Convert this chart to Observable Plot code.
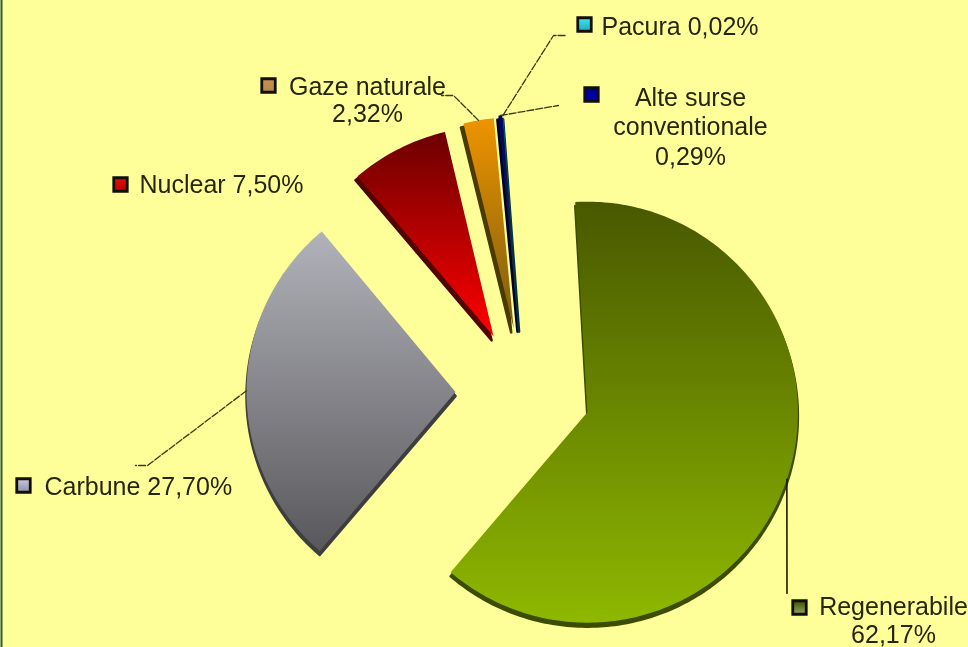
<!DOCTYPE html>
<html>
<head>
<meta charset="utf-8">
<script src="https://cdn.jsdelivr.net/npm/d3@7"></script>
<script src="https://cdn.jsdelivr.net/npm/@observablehq/plot@0.6"></script>
<style>html,body{margin:0;padding:0;background:#ffff99;overflow:hidden}svg{display:block}</style>
</head>
<body>
<script>
const sources = ["Regenerabile", "Carbune", "Nuclear", "Gaze naturale", "Alte surse conventionale", "Pacura"];
const shares = [62.17, 27.70, 7.50, 2.32, 0.29, 0.02];
const labelLines = [
  ["Regenerabile", "62,17%"],
  ["Carbune 27,70%"],
  ["Nuclear 7,50%"],
  ["Gaze naturale", "2,32%"],
  ["Alte surse", "conventionale", "0,29%"],
  ["Pacura 0,02%"]
];

// pie layout
const W = 968, H = 647;
const center = [521, 392], startAngle = -3.3;
const radii = [210.5, 209, 210, 211, 213, 213];
const explode = [69.5, 66, 63, 65, 65, 65];
const nudge = [[0, -2.5], [0, 0], [0.5, 0], [3, 0], [2.5, 0], [2.5, 0]];
const tilt = [0, 0, -0.6, -1, -1, -1];
const sideShift = [0, 0, -2, -2.5, -1, 0];
const topColor = ["#485800", "#b2b2ba", "#6c0000", "#ee9400", "#00006a", "#20c0d0"];
const bottomColor = ["#8eb800", "#58585c", "#ff0000", "#7a5c10", "#2a3a10", "#104050"];
const sideColor = ["#3c4c00", "#3e3e3e", "#520000", "#4a3a00", "#000030", "#003040"];
const swatchTop = ["#3c5000", "#c8c8e0", "#e01010", "#c89050", "#0000a0", "#40e8f0"];
const swatchFill = ["#90a860", "#9090a8", "#c00000", "#b88848", "#0000a0", "#20a8c0"];

// label layout: swatch centre, text anchor point, text alignment, leader bend points
const swatchAt = [[799, 607], [23, 485], [120, 184], [268, 85], [591, 94], [584, 24]];
const textAt = [[893, 619.5], [44, 486], [139, 184], [367, 99.5], [690, 125.5], [601, 26]];
const textAnchor = ["middle", "start", "start", "middle", "middle", "start"];
const lineHeights = [1.12, 1, 1, 1.08, 1.18, 1];
const leaderVia = [
  [[786.5, 593]],
  [[147, 465], [135, 465]],
  [],
  [[453, 95], [441, 95]],
  [[558, 105]],
  [[553, 35], [565, 35]]
];

const rad = (d) => d * Math.PI / 180;
const total = d3.sum(shares);
let cursor = startAngle;
const slices = shares.map((v, i) => {
  const a0 = cursor + tilt[i], a1 = cursor + tilt[i] + v / total * 360;
  cursor += v / total * 360;
  const mid = (a0 + a1) / 2;
  const r = radii[i];
  const apex = [
    center[0] + nudge[i][0] + explode[i] * Math.sin(rad(mid)),
    center[1] + nudge[i][1] - explode[i] * Math.cos(rad(mid))
  ];
  const n = Math.max(2, Math.ceil(a1 - a0));
  const pts = [{x: apex[0], y: apex[1]}];
  for (let k = 0; k <= n; ++k) {
    const a = a0 + (a1 - a0) * k / n;
    pts.push({x: apex[0] + r * Math.sin(rad(a)), y: apex[1] - r * Math.cos(rad(a))});
  }
  pts.push(pts[0]);
  const edge = {x: apex[0] + r * Math.sin(rad(mid)), y: apex[1] - r * Math.cos(rad(mid))};
  return {name: sources[i], pts, edge, i};
});

const defs = () => {
  const d = d3.create("svg:defs");
  slices.forEach(({i}) => {
    const g = d.append("linearGradient").attr("id", "grad" + i)
      .attr("x1", 0).attr("y1", 0).attr("x2", 0).attr("y2", 1);
    g.append("stop").attr("offset", "0%").attr("stop-color", topColor[i]);
    g.append("stop").attr("offset", "100%").attr("stop-color", bottomColor[i]);
    const s = d.append("linearGradient").attr("id", "swatch" + i)
      .attr("x1", 0).attr("y1", 0).attr("x2", 0).attr("y2", 1);
    s.append("stop").attr("offset", "0%").attr("stop-color", swatchTop[i]);
    s.append("stop").attr("offset", "100%").attr("stop-color", swatchFill[i]);
  });
  return d.node();
};

const marks = [defs];
marks.push(Plot.ruleX([1], {stroke: "#2c5a44", strokeWidth: 2}));

// extruded sides, then the faces
for (const s of slices) {
  marks.push(Plot.line(s.pts, {
    x: (d) => d.x + sideShift[s.i], y: (d) => d.y + 4,
    fill: sideColor[s.i], stroke: sideColor[s.i], strokeWidth: 2.5, strokeLinejoin: "round"
  }));
}
for (const s of slices) {
  marks.push(Plot.line(s.pts, {
    x: "x", y: "y", fill: `url(#grad${s.i})`, stroke: "none"
  }));
}

// leaders
for (const s of slices) {
  if (!leaderVia[s.i].length) continue;
  const path = [[s.edge.x, s.edge.y], ...leaderVia[s.i]];
  marks.push(Plot.line(path, {
    x: (d) => d[0], y: (d) => d[1],
    stroke: s.i === 0 ? "#1c1c00" : "#3a3a08",
    strokeWidth: s.i === 0 ? 1.6 : 1.3,
    strokeDasharray: s.i === 0 ? null : "7 2"
  }));
}

// swatches
slices.forEach(({i}) => {
  marks.push(Plot.dot([swatchAt[i]], {
    x: (d) => d[0], y: (d) => d[1], symbol: "square", r: 7.6,
    fill: `url(#swatch${i})`, stroke: "#101008", strokeWidth: 2.8
  }));
});

// labels
slices.forEach(({i}) => {
  marks.push(Plot.text([labelLines[i].join("\n")], {
    x: () => textAt[i][0], y: () => textAt[i][1],
    text: (d) => d, textAnchor: textAnchor[i], lineAnchor: "middle",
    lineHeight: lineHeights[i],
    fontFamily: "Liberation Sans", fontSize: 25, fill: "#26260c"
  }));
});

const chart = Plot.plot({
  width: W, height: H, margin: 0,
  x: {domain: [0, W], range: [0, W], axis: null},
  y: {domain: [0, H], range: [0, H], axis: null},
  style: {background: "#ffff99", filter: "blur(0.7px)"},
  marks
});
document.body.appendChild(chart);
</script>
</body>
</html>
